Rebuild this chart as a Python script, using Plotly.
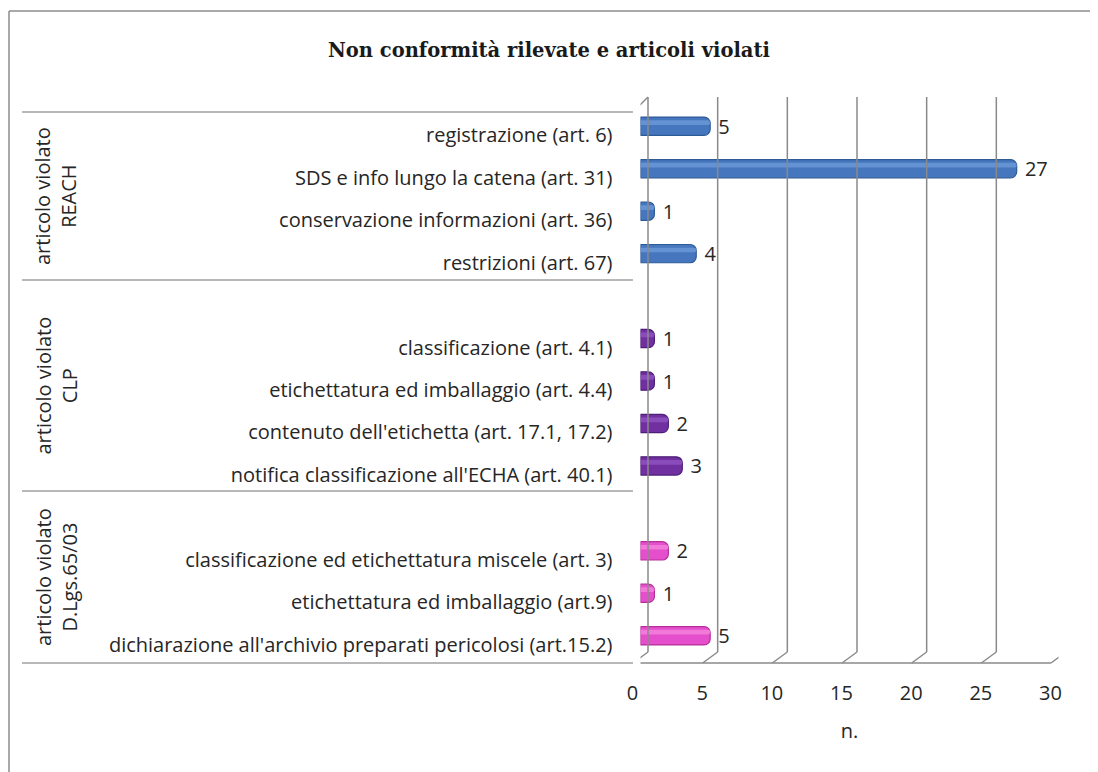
import plotly.graph_objects as go

# ---------------- data ----------------
group_names = ["articolo violato<br>REACH", "articolo violato<br>CLP", "articolo violato<br>D.Lgs.65/03"]
reach_labels = ["registrazione (art. 6)", "SDS e info lungo la catena (art. 31)",
                "conservazione informazioni (art. 36)", "restrizioni (art. 67)"]
reach_values = [5, 27, 1, 4]
clp_labels = ["classificazione (art. 4.1)", "etichettatura ed imballaggio (art. 4.4)",
              "contenuto dell'etichetta (art. 17.1, 17.2)", "notifica classificazione all'ECHA (art. 40.1)"]
clp_values = [1, 1, 2, 3]
dlgs_labels = ["classificazione ed etichettatura miscele (art. 3)", "etichettatura ed imballaggio (art.9)",
               "dichiarazione all'archivio preparati pericolosi (art.15.2)"]
dlgs_values = [2, 1, 5]
x_ticks = [0, 5, 10, 15, 20, 25, 30]

# ---------------- styling ----------------
W, H = 1098, 772
OFF = 8  # page body margin
FONT = "Open Sans"
FS = 20
TXT = "#262626"
styles = [  # main, edge, highlight
    ("#4677BE", "#2E5A96", "#6F9BD8"),
    ("#7030A0", "#4E1F78", "#9455C4"),
    ("#E64FCB", "#B52F9C", "#F487DE"),
]

def py(p):  # page pixel row -> paper y
    return (H - (p - OFF)) / H

def pxp(p):  # page pixel column -> paper x
    return (p - OFF) / W

fig = go.Figure()

groups = [(reach_labels, reach_values), (clp_labels, clp_values), (dlgs_labels, dlgs_values)]
tickvals, ticktext = [], []
slot = 0
for gi, (labels, values) in enumerate(groups):
    if gi > 0:
        slot += 1  # empty slot before the group
    ys = list(range(slot, slot + len(labels)))
    slot += len(labels)
    tickvals += ys
    ticktext += labels
    main, edge, hi = styles[gi]
    fig.add_trace(go.Bar(
        x=values, y=ys, orientation="h", width=0.43,
        marker=dict(color=main, line=dict(color=edge, width=1.2), cornerradius=6),
        texttemplate="\u00a0%{x}", textposition="outside", constraintext="none",
        textfont=dict(family=FONT, size=FS, color=TXT),
        cliponaxis=False, showlegend=False, hoverinfo="x+y",
    ))
    fig.add_trace(go.Bar(
        x=values, y=ys, orientation="h", width=0.11, offset=-0.14,
        marker=dict(color=hi, line=dict(width=0), cornerradius=3, opacity=0.75),
        showlegend=False, hoverinfo="skip",
    ))

# axes geometry (page pixels)
X0, X30 = 640.5, 1058.5
Y_TOP, Y_BOT = 105, 657
fig.update_layout(
    width=W, height=H,
    margin=dict(l=0, r=0, t=0, b=0),
    paper_bgcolor="white", plot_bgcolor="rgba(0,0,0,0)",
    barmode="overlay", uniformtext=dict(mode=False),
    xaxis=dict(domain=[pxp(X0), pxp(X30)], range=[0, 30], tickvals=x_ticks,
               showgrid=False, zeroline=False, showline=False, ticks="",
               ticklabelstandoff=22, ticklabelshift=-8,
               tickfont=dict(family=FONT, size=FS, color=TXT),
               title=dict(text="n.", font=dict(family=FONT, size=FS, color=TXT), standoff=18),
               automargin=False, fixedrange=True),
    yaxis=dict(domain=[py(Y_BOT), py(Y_TOP)], range=[12.5, -0.5],
               tickvals=tickvals, ticktext=ticktext,
               showgrid=False, zeroline=False, showline=False, ticks="",
               ticklabelstandoff=27, ticklabelshift=-9,
               tickfont=dict(family=FONT, size=FS, color=TXT),
               automargin=False, fixedrange=True),
)

GRID = "#8a8a8a"
shapes = []
BACK_TOP, BACK_BOT, FRONT_BOT = 97, 652, 663
D = 7.5
for v in x_ticks:
    shapes.append(dict(type="line", xref="x", xsizemode="pixel", xanchor=v, x0=D, x1=D,
                       yref="paper", y0=py(BACK_BOT), y1=py(BACK_TOP),
                       line=dict(color=GRID, width=1.5)))
    shapes.append(dict(type="line", xref="x", xsizemode="pixel", xanchor=v, x0=D, x1=-D,
                       yref="paper", y0=py(BACK_BOT), y1=py(FRONT_BOT),
                       line=dict(color=GRID, width=1.5)))
# floor front edge
shapes.append(dict(type="line", xref="x", xsizemode="pixel", xanchor=0, x0=-D,
                   x1=-D + (X30 - X0), yref="paper", y0=py(FRONT_BOT), y1=py(FRONT_BOT),
                   line=dict(color=GRID, width=1.5)))
# left wall front edge and top
WALL_TOP = 112
shapes.append(dict(type="line", xref="x", xsizemode="pixel", xanchor=0, x0=-D, x1=-D,
                   yref="paper", y0=py(FRONT_BOT), y1=py(WALL_TOP),
                   line=dict(color=GRID, width=1.5)))
shapes.append(dict(type="line", xref="x", xsizemode="pixel", xanchor=0, x0=-D, x1=D,
                   yref="paper", y0=py(WALL_TOP), y1=py(BACK_TOP),
                   line=dict(color=GRID, width=1.5)))
# group separators
SEPS = [112, 280, 491, 663]
for s in SEPS:
    shapes.append(dict(type="line", xref="paper", x0=pxp(22), x1=pxp(X0 - D),
                       yref="paper", y0=py(s), y1=py(s),
                       line=dict(color="#a0a0a0", width=1.5)))
# outer chart border (left and top)
shapes.append(dict(type="line", xref="paper", x0=pxp(9), x1=pxp(9), yref="paper",
                   y0=0, y1=py(11), line=dict(color="#8c8c8c", width=1.5)))
shapes.append(dict(type="line", xref="paper", x0=pxp(9), x1=1, yref="paper",
                   y0=py(11), y1=py(11), line=dict(color="#8c8c8c", width=1.5)))
fig.update_layout(shapes=shapes)

annotations = []
for gi, name in enumerate(group_names):
    mid = (SEPS[gi] + SEPS[gi + 1]) / 2
    annotations.append(dict(text=name, textangle=-90, xref="paper", yref="paper",
                            x=pxp(56), y=py(mid), xanchor="center", yanchor="middle",
                            showarrow=False, align="center",
                            font=dict(family=FONT, size=FS, color=TXT)))
annotations.append(dict(text="<b>Non conformità rilevate e articoli violati</b>",
                        xref="paper", yref="paper", x=pxp(549), y=py(51),
                        xanchor="center", yanchor="middle", showarrow=False,
                        font=dict(family="DejaVu Serif", size=19.5, color="#1a1a1a")))
fig.update_layout(annotations=annotations)

fig.write_html("out.html")
